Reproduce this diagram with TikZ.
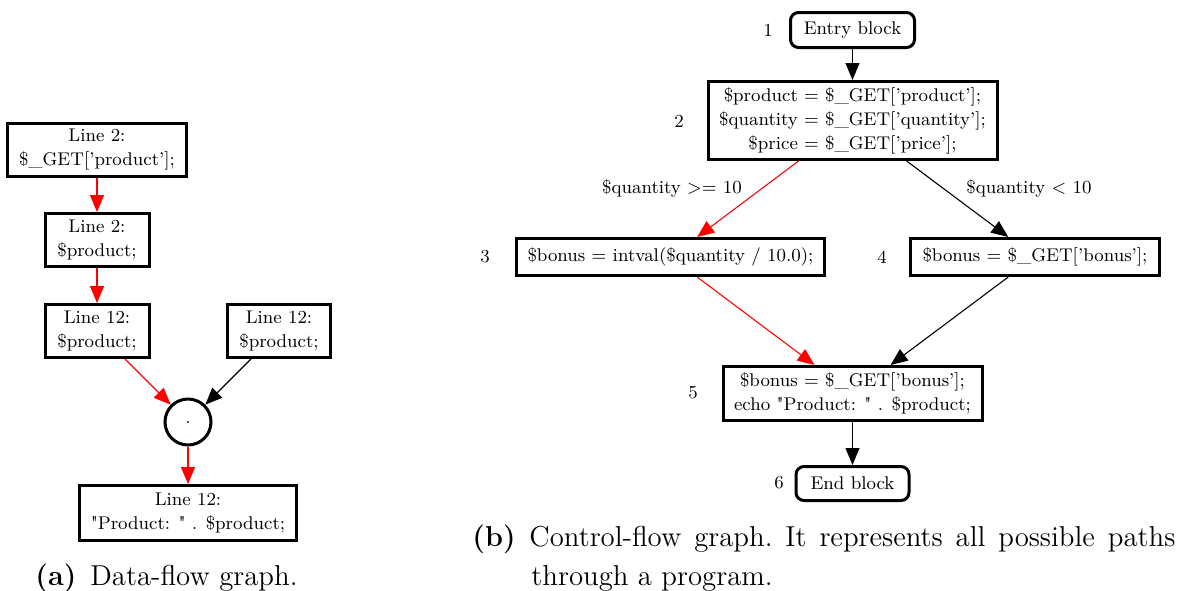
\documentclass[tikz,border=0pt]{standalone}
\usepackage{fontspec}
\usetikzlibrary{arrows.meta}
% same face as the node text, loaded without the TeX quote mapping,
% so that " stays a straight ASCII double quote
\newfontfamily\plainquotes{lmroman9-regular.otf}[Ligatures=TeXOff]
\newcommand\qdbl{{\plainquotes"}}
\tikzset{
  gfont/.style={font=\fontsize{9.2}{12}\selectfont},
  blk/.style={draw, line width=1.5pt, inner sep=0pt, align=center, gfont},
  sz/.style 2 args={minimum width={#1*0.5pt-1.5pt}, minimum height={#2*0.5pt-1.5pt}},
  term/.style={blk, rounded corners=4pt},
  joint/.style={draw, circle, line width=1.5pt, inner sep=0pt, minimum size=23pt, gfont},
  flow/.style={draw, line width=0.55pt, -{Triangle[length=8.5pt,width=7pt]}},
  taint/.style={flow, red},
  tag/.style={gfont, inner sep=0pt},
  capfont/.style={font=\fontsize{14.4}{18}\selectfont, inner sep=0pt},
}
\begin{document}
\begin{tikzpicture}[x=0.5pt,y=-0.5pt]
\useasboundingbox (0,0) rectangle (1179,590);

% ---- (a) data-flow graph ----
\node[blk, sz={182}{56}] (a1) at (97,150) {Line 2:\\\$\_GET['product'];};
\node[blk, sz={107}{56}] (a2) at (97,240) {Line 2:\\\$product;};
\node[blk, sz={107}{56}] (a3) at (97,331) {Line 12:\\\$product;};
\node[blk, sz={106}{56}] (a4) at (279,331) {Line 12:\\\$product;};
\node[joint] (dot) at (188,422) {.};
\node[blk, sz={220}{58}] (a5) at (188,513) {Line 12:\\\qdbl Product: \qdbl{} . \$product;};

\draw[taint] (a1) -- (a2);
\draw[taint] (a2) -- (a3);
\draw[taint] (a3) -- (dot);
\draw[flow]  (a4) -- (dot);
\draw[taint] (dot) -- (a5);

\node[capfont, anchor=base west] (capalabel) at (35,585) {\textbf{(a)}};
\node[capfont, anchor=base west] (capatext) at (90,585) {Data-flow graph.};

% ---- (b) control-flow graph ----
\node[term, sz={127}{38}] (entry) at (852.5,30) {Entry block};
\node[blk, sz={292}{81}] (n2) at (852.5,120.5)
  {\$product = \$\_GET['product'];\\\$quantity = \$\_GET['quantity'];\\\$price = \$\_GET['price'];};
\node[blk, sz={311}{40}] (n3) at (670.5,257) {\$bonus = intval(\$quantity / 10.0);};
\node[blk, sz={252}{40}] (n4) at (1035,257) {\$bonus = \$\_GET['bonus'];};
\node[blk, sz={262}{57}] (n5) at (852.5,393.5) {\$bonus = \$\_GET['bonus'];\\echo \qdbl Product: \qdbl{} . \$product;};
\node[term, sz={116}{37}] (exit) at (852.5,483.5) {End block};

\node[tag] (t1) at (768,30) {1};
\node[tag] (t2) at (679,121) {2};
\node[tag] (t3) at (485,257) {3};
\node[tag] (t4) at (882,257) {4};
\node[tag] (t5) at (693,393) {5};
\node[tag] (t6) at (779,483) {6};

\draw[flow]  (entry) -- (n2);
\draw[taint] (n2) -- (n3);
\draw[flow]  (n2) -- (n4);
\draw[taint] (n3) -- (n5);
\draw[flow]  (n4) -- (n5);
\draw[flow]  (n5) -- (exit);

\node[tag] (ge) at (672,188) {\$quantity >= 10};
\node[tag] (lt) at (1029,188) {\$quantity < 10};

% justified caption: first line stretched to the full measure
\node[capfont, anchor=base west] (capblabel) at (472,546) {\textbf{(b)}};
\node[capfont, anchor=base west] (capbline1) at (529,546)
  {\frenchspacing\hbox to 323pt{Control-flow graph. It represents all possible paths}};
\node[capfont, anchor=base west] (capbline2) at (531,585) {through a program.};
\end{tikzpicture}
\end{document}
